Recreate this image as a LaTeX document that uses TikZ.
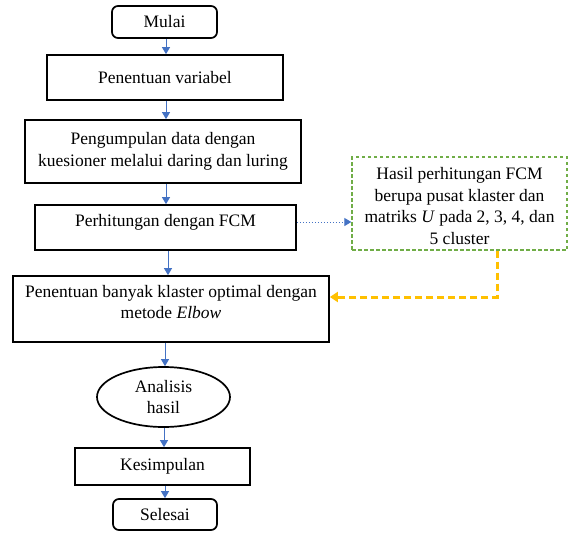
\documentclass[tikz,border=0pt]{standalone}
\usepackage{fontspec}
\setmainfont{Liberation Serif}
\usetikzlibrary{shapes.geometric,arrows.meta}
\begin{document}
\begin{tikzpicture}[x=1pt,y=-1pt,
  every node/.style={font=\fontsize{17.5}{21.5}\selectfont, inner sep=0pt},
  procbox/.style={draw=black, line width=1.7pt, align=center},
  termbox/.style={draw=black, line width=1.7pt, rounded corners=6pt, align=center},
  flow/.style={draw={rgb,255:red,68;green,114;blue,196}, line width=1pt, -{Triangle[length=7pt,width=8pt]}},
  dotflow/.style={draw={rgb,255:red,68;green,114;blue,196}, line width=1pt, dotted, -{Triangle[length=7pt,width=8pt]}},
  orflow/.style={draw={rgb,255:red,255;green,192;blue,0}, line width=3pt, dash pattern=on 7pt off 4pt, -{Triangle[length=8pt,width=10pt]}}]
\useasboundingbox (0,0) rectangle (572,532);
% nodes
\node[termbox, minimum width=105, minimum height=32] (mulai) at (164.5,22) {Mulai};
\node[procbox, minimum width=236, minimum height=45] (var) at (165,77.5) {Penentuan variabel};
\node[procbox, minimum width=276, minimum height=63] (kumpul) at (163,151.5) {Pengumpulan data dengan\\kuesioner melalui daring dan luring};
\node[procbox, minimum width=261, minimum height=45] (fcm) at (165.5,227.5) {};
\node at (165.5,222) {Perhitungan dengan FCM};
\node[procbox, minimum width=316, minimum height=66] (elbow) at (171,309) {};
\node[align=center] at (171,302) {Penentuan banyak klaster optimal dengan\\metode \textit{Elbow}};
\node[draw=black, line width=1.7pt, ellipse, minimum width=133, minimum height=60] (anal) at (163.5,397) {};
\node[align=center] at (163.5,397) {Analisis\\hasil};
\node[procbox, minimum width=175, minimum height=37] (kesim) at (162.5,466.5) {Kesimpulan};
\node[termbox, minimum width=104, minimum height=31] (selesai) at (165,514.5) {Selesai};
\node[draw={rgb,255:red,112;green,173;blue,71}, line width=1.3pt, dash pattern=on 3.5pt off 2.5pt, minimum width=215, minimum height=93] (hasil) at (459.5,203.5) {};
\node[align=center] at (459.5,206) {Hasil perhitungan FCM\\berupa pusat klaster dan\\matriks \textit{U} pada 2, 3, 4, dan\\5 cluster};
\coordinate (corner) at (497,297);
% connectors
\draw[flow] (mulai.south -| 166,0) -- (var.north -| 166,0);
\draw[flow] (var.south -| 166,0) -- (kumpul.north -| 166,0);
\draw[flow] (kumpul.south -| 166,0) -- (fcm.north -| 166,0);
\draw[flow] (fcm.south -| 168,0) -- (elbow.north -| 168,0);
\draw[flow] (elbow.south -| 165,0) -- (anal.north -| 165,0);
\draw[flow] (anal.south -| 164,0) -- (kesim.north -| 164,0);
\draw[flow] (kesim.south -| 165,0) -- (selesai.north -| 165,0);
\draw[dotflow] (fcm.east |- 0,222) -- (hasil.west |- 0,222);
\draw[orflow] (hasil.south -| corner) -- (corner) -- (elbow.east |- corner);
\end{tikzpicture}
\end{document}
